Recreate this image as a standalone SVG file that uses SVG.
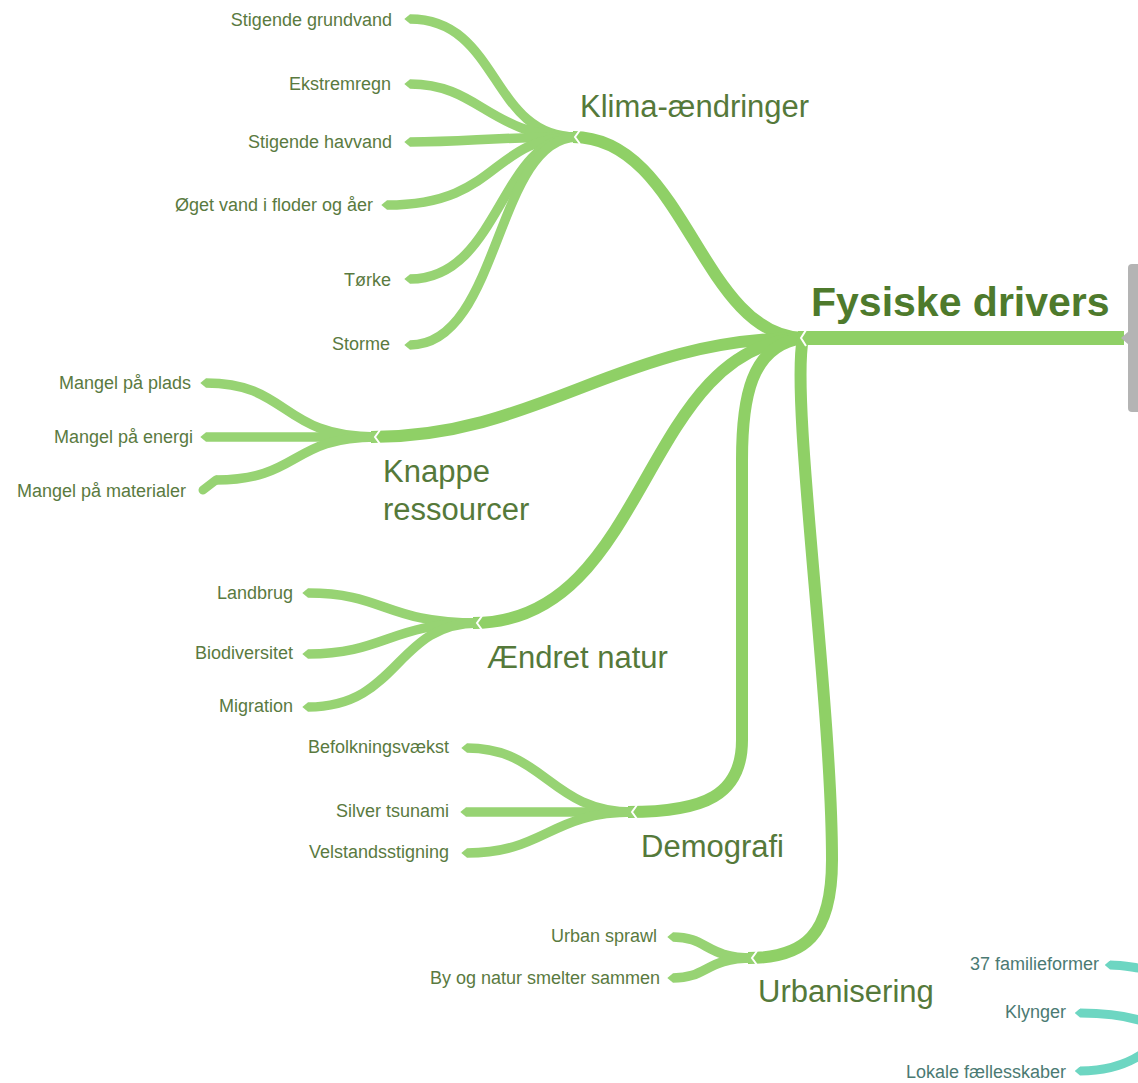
<svg xmlns="http://www.w3.org/2000/svg" width="1138" height="1083" viewBox="0 0 1138 1083">
<style>
.br{fill:none;stroke:#8fd066;stroke-width:12;stroke-linecap:butt}
.lf{fill:none;stroke:#97d373;stroke-width:9.5;stroke-linecap:butt;marker-end:url(#tip)}
.tl{fill:none;stroke:#6dd6c2;stroke-width:9;marker-start:url(#tipT)}
.notch{fill:none;stroke:#ffffff;stroke-width:2}
.root{font-family:"Liberation Sans",Arial,sans-serif;font-weight:bold;font-size:41px;fill:#4e7a2c}
.sub{font-family:"Liberation Sans",Arial,sans-serif;font-size:31px;fill:#55793a}
.leaf{font-family:"Liberation Sans",Arial,sans-serif;font-size:18px;fill:#5a7a3f;text-anchor:end}
.leafT{font-family:"Liberation Sans",Arial,sans-serif;font-size:18px;fill:#4b7a73;text-anchor:end}
</style>
<defs>
<marker id="tip" viewBox="0 -0.5 0.6 1" refX="0" refY="0" markerWidth="0.6" markerHeight="1" orient="auto" markerUnits="strokeWidth">
<polygon points="0,-0.5 0.6,0 0,0.5" fill="#97d373"/>
</marker>
<marker id="tipT" viewBox="0 -0.5 0.6 1" refX="0" refY="0" markerWidth="0.6" markerHeight="1" orient="auto-start-reverse" markerUnits="strokeWidth">
<polygon points="0,-0.5 0.6,0 0,0.5" fill="#6dd6c2"/>
</marker>
</defs>
<rect width="1138" height="1083" fill="#ffffff"/>

<g id="connectors">
<!-- subtopic branches -->
<path class="br" d="M 803 338 C 700 335, 685 137, 573 137"/>
<path class="br" d="M 803 338 C 620 338, 540 437, 371 437"/>
<path class="br" d="M 803 338 C 640 345, 650 623, 473 623"/>
<path class="br" d="M 803 338 C 750 345, 742 400, 742 460 L 742 740 C 742 795, 705 812, 628 812"/>
<path class="br" d="M 803 338 C 790 400, 832 700, 832 860 C 832 935, 805 958, 748 958"/>
<!-- root bar -->
<path class="br" style="stroke-width:14" d="M 798 338 L 1124 338"/>
<!-- Klima leaves -->
<path class="lf" d="M 576 137 C 490 137, 500 19, 410 19"/>
<path class="lf" d="M 576 137 C 490 137, 480 84, 410 84"/>
<path class="lf" d="M 576 137 C 490 137, 470 142, 410 142"/>
<path class="lf" d="M 576 137 C 490 137, 500 205, 387 205"/>
<path class="lf" d="M 576 137 C 500 137, 500 279, 410 279"/>
<path class="lf" d="M 576 137 C 495 140, 500 345, 410 345"/>
<!-- Knappe leaves -->
<path class="lf" d="M 376 437 C 280 437, 290 383, 206 383"/>
<path class="lf" d="M 376 437 C 300 437, 260 437, 206 437"/>
<path class="lf" d="M 376 437 C 290 437, 300 480, 216 480"/>
<path d="M 216 480 L 203 490" fill="none" stroke="#97d373" stroke-width="9" stroke-linecap="round"/>
<!-- Ændret leaves -->
<path class="lf" d="M 478 623 C 385 623, 385 593, 308 593"/>
<path class="lf" d="M 478 623 C 390 623, 385 654, 308 654"/>
<path class="lf" d="M 478 623 C 395 623, 400 707, 308 707"/>
<!-- Demografi leaves -->
<path class="lf" d="M 633 812 C 550 812, 545 748, 467 748"/>
<path class="lf" d="M 633 812 C 560 812, 520 812, 466 812"/>
<path class="lf" d="M 633 812 C 550 812, 545 853, 467 853"/>
<!-- Urbanisering leaves -->
<path class="lf" d="M 753 958 C 705 958, 708 937, 673 937"/>
<path class="lf" d="M 753 958 C 705 958, 708 978, 673 978"/>
<!-- teal leaves (other branch, off-picture) -->
<path class="tl" d="M 1110 965 C 1122 965, 1130 967, 1145 969"/>
<path class="tl" d="M 1080 1013 C 1110 1013, 1128 1016, 1145 1022"/>
<path class="tl" d="M 1080 1071 C 1110 1071, 1130 1063, 1145 1052"/>
<!-- junction notches -->
<polyline class="notch" points="806,330 801,338 806,346"/>
<polyline class="notch" points="580,130 575,137 580,144"/>
<polyline class="notch" points="380,430 375,437 380,444"/>
<polyline class="notch" points="482,616 477,623 482,630"/>
<polyline class="notch" points="637,805 632,812 637,819"/>
<polyline class="notch" points="757,951 752,958 757,965"/>
</g>

<g id="side-panel">
<rect x="1128" y="264" width="20" height="148" rx="4" fill="#b4b4b4"/>
<polygon points="1129,331 1121,338 1129,345" fill="#b4b4b4"/>
</g>

<g id="node-root"><text class="root" x="811" y="316">Fysiske drivers</text></g>

<g id="node-klima"><text class="sub" x="580" y="117">Klima-ændringer</text></g>
<g id="leaf-k1"><text class="leaf" x="392" y="26">Stigende grundvand</text></g>
<g id="leaf-k2"><text class="leaf" x="391" y="90">Ekstremregn</text></g>
<g id="leaf-k3"><text class="leaf" x="392" y="148">Stigende havvand</text></g>
<g id="leaf-k4"><text class="leaf" x="373" y="211">Øget vand i floder og åer</text></g>
<g id="leaf-k5"><text class="leaf" x="391" y="286">Tørke</text></g>
<g id="leaf-k6"><text class="leaf" x="390" y="350">Storme</text></g>

<g id="node-knappe"><text class="sub" x="383" y="482">Knappe</text><text class="sub" x="383" y="520">ressourcer</text></g>
<g id="leaf-r1"><text class="leaf" x="191" y="389">Mangel på plads</text></g>
<g id="leaf-r2"><text class="leaf" x="193" y="443">Mangel på energi</text></g>
<g id="leaf-r3"><text class="leaf" x="186" y="497">Mangel på materialer</text></g>

<g id="node-natur"><text class="sub" x="487" y="668">Ændret natur</text></g>
<g id="leaf-n1"><text class="leaf" x="293" y="599">Landbrug</text></g>
<g id="leaf-n2"><text class="leaf" x="293" y="659">Biodiversitet</text></g>
<g id="leaf-n3"><text class="leaf" x="293" y="712">Migration</text></g>

<g id="node-demografi"><text class="sub" x="641" y="857">Demografi</text></g>
<g id="leaf-d1"><text class="leaf" x="449" y="753">Befolkningsvækst</text></g>
<g id="leaf-d2"><text class="leaf" x="449" y="817">Silver tsunami</text></g>
<g id="leaf-d3"><text class="leaf" x="449" y="858">Velstandsstigning</text></g>

<g id="node-urban"><text class="sub" x="758" y="1002">Urbanisering</text></g>
<g id="leaf-u1"><text class="leaf" x="657" y="942">Urban sprawl</text></g>
<g id="leaf-u2"><text class="leaf" x="660" y="984">By og natur smelter sammen</text></g>

<g id="leaf-t1"><text class="leafT" x="1099" y="970">37 familieformer</text></g>
<g id="leaf-t2"><text class="leafT" x="1066" y="1018">Klynger</text></g>
<g id="leaf-t3"><text class="leafT" x="1066" y="1078">Lokale fællesskaber</text></g>
</svg>
